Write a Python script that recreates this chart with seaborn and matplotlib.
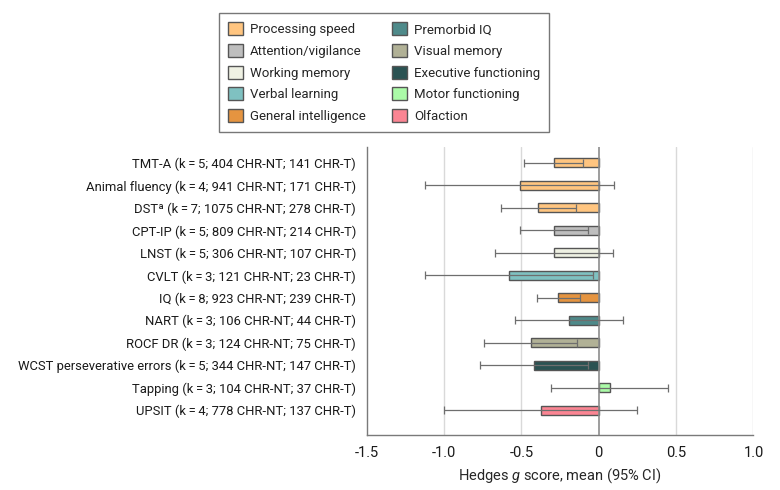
import matplotlib
matplotlib.use("Agg")
import matplotlib.pyplot as plt
import seaborn as sns
import pandas as pd

# data
ts = "\u2009"
labels = [
    f"TMT-A (k{ts}={ts}5; 404 CHR-NT; 141 CHR-T)",
    f"Animal fluency (k{ts}={ts}4; 941 CHR-NT; 171 CHR-T)",
    f"DSTª (k{ts}={ts}7; 1075 CHR-NT; 278 CHR-T)",
    f"CPT-IP (k{ts}={ts}5; 809 CHR-NT; 214 CHR-T)",
    f"LNST (k{ts}={ts}5; 306 CHR-NT; 107 CHR-T)",
    f"CVLT (k{ts}={ts}3; 121 CHR-NT; 23 CHR-T)",
    f"IQ (k{ts}={ts}8; 923 CHR-NT; 239 CHR-T)",
    f"NART (k{ts}={ts}3; 106 CHR-NT; 44 CHR-T)",
    f"ROCF DR (k{ts}={ts}3; 124 CHR-NT; 75 CHR-T)",
    f"WCST perseverative errors (k{ts}={ts}5; 344 CHR-NT; 147 CHR-T)",
    f"Tapping (k{ts}={ts}3; 104 CHR-NT; 37 CHR-T)",
    f"UPSIT (k{ts}={ts}4; 778 CHR-NT; 137 CHR-T)",
]
domains = [
    "Processing speed", "Processing speed", "Processing speed",
    "Attention/vigilance", "Working memory", "Verbal learning",
    "General intelligence", "Premorbid IQ", "Visual memory",
    "Executive functioning", "Motor functioning", "Olfaction",
]
g_mean = [-0.29, -0.51, -0.39, -0.29, -0.29, -0.58, -0.26, -0.19, -0.44, -0.42, 0.07, -0.37]
ci_low = [-0.48, -1.12, -0.63, -0.51, -0.67, -1.12, -0.40, -0.54, -0.74, -0.77, -0.31, -1.00]
ci_high = [-0.10, 0.10, -0.15, -0.07, 0.09, -0.04, -0.12, 0.16, -0.14, -0.07, 0.45, 0.25]

domain_order = [
    "Processing speed", "Attention/vigilance", "Working memory",
    "Verbal learning", "General intelligence", "Premorbid IQ",
    "Visual memory", "Executive functioning", "Motor functioning", "Olfaction",
]
domain_colors = ["#FFC580", "#BEBEBE", "#EFF1E3", "#7FC1C1", "#E59440",
                 "#4E8A8A", "#B1B196", "#2A5252", "#ABFBA8", "#FB8593"]

df = pd.DataFrame({"label": labels, "domain": domains, "g": g_mean,
                   "lo": ci_low, "hi": ci_high})

sns.set_style("white")
fam = "Roboto"
plt.rcParams["font.family"] = [fam, "DejaVu Sans"]
plt.rcParams["mathtext.fontset"] = "custom"
plt.rcParams["mathtext.it"] = fam + ":italic"
plt.rcParams["mathtext.rm"] = fam

fig = plt.figure(figsize=(7.8, 4.9), dpi=100)
ax = fig.add_axes([0.470, 0.112, 0.496, 0.588])

# grid lines
for v in [-1.0, -0.5, 0.5, 1.0]:
    ax.axvline(v, color="#d9d9d9", lw=1, zorder=0)

sns.barplot(data=df, y="label", x="g", hue="domain", hue_order=domain_order,
            palette=dict(zip(domain_order, domain_colors)), dodge=False,
            saturation=1, width=0.4, edgecolor="#555555", linewidth=1,
            ax=ax, zorder=2)

ax.axvline(0, color="#8c8c8c", lw=1.2, zorder=3)

ypos = range(len(labels))
ax.errorbar(df["g"], ypos,
            xerr=[df["g"] - df["lo"], df["hi"] - df["g"]],
            fmt="none", ecolor="#6e6e6e", elinewidth=0.9, capsize=3,
            capthick=0.9, zorder=4)

ax.set_xlim(-1.5, 1.0)
ax.set_ylim(len(labels) - 1 + 1.11, -0.71)
ax.set_xticks([-1.5, -1.0, -0.5, 0, 0.5, 1.0])
ax.set_xticklabels(["-1.5", "-1.0", "-0.5", "0", "0.5", "1.0"])
ax.set_xlabel(r"Hedges $\mathit{g}$ score, mean (95% CI)", fontsize=10.5, labelpad=5)
ax.set_ylabel("")
for s in ["top", "right"]:
    ax.spines[s].set_visible(False)
for s in ["left", "bottom"]:
    ax.spines[s].set_color("#7a7a7a")
    ax.spines[s].set_linewidth(1)
ax.tick_params(axis="both", which="both", direction="out", length=4,
               width=0.8, color="#555555", labelsize=9.4, labelcolor="#1a1a1a")
ax.tick_params(axis="x", labelsize=10.5)

sns.move_legend(ax, "upper center", bbox_to_anchor=(0.045, 1.465), ncol=2,
                title=None, frameon=True, fontsize=9.5, handlelength=1.15,
                handleheight=1.15, handletextpad=0.5, columnspacing=2.0,
                labelspacing=0.58, borderpad=0.7, borderaxespad=0,
                fancybox=False)
leg = ax.get_legend()
leg.get_frame().set_edgecolor("#555555")
leg.get_frame().set_linewidth(1)

fig.savefig("out.png", dpi=100)
